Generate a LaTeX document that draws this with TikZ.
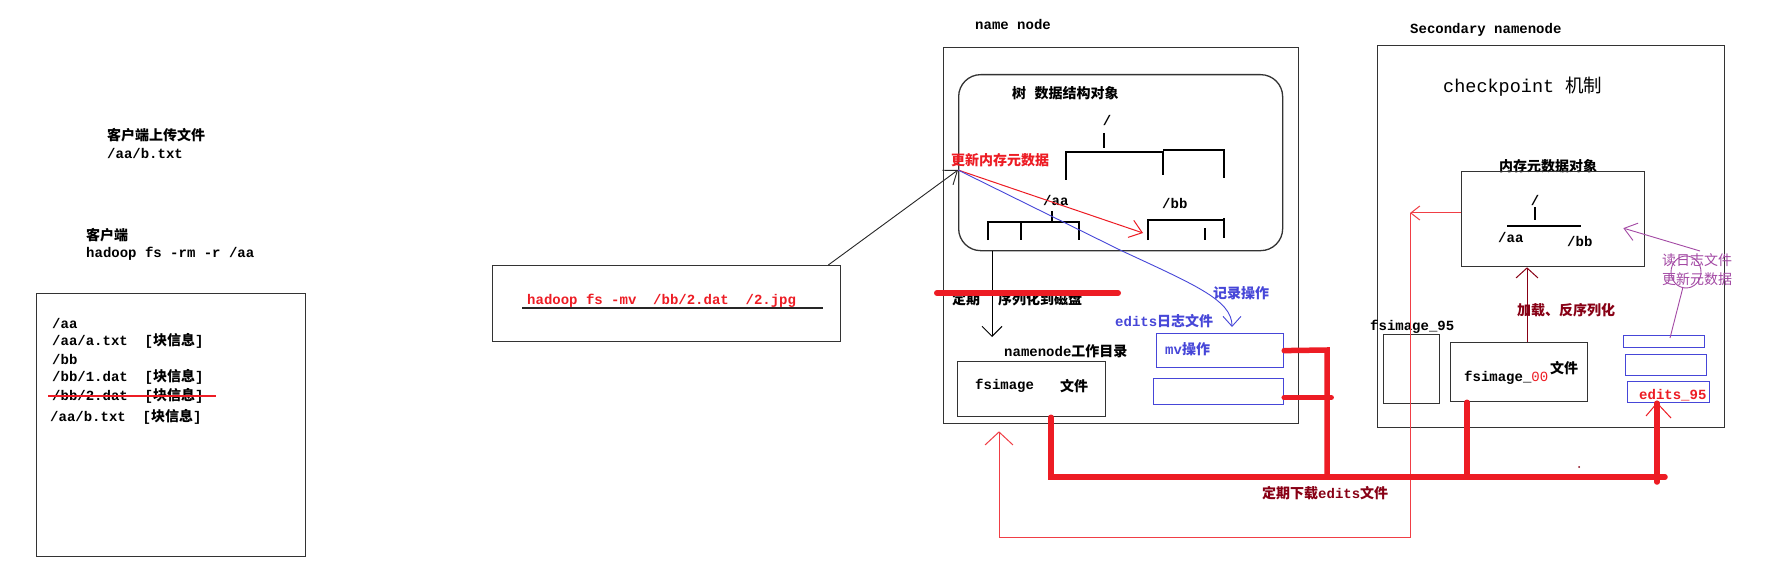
\documentclass[tikz,border=0pt]{standalone}
\usepackage{fontspec}
\setmainfont{Liberation Mono}
\newfontfamily\cjk{Noto Sans CJK SC}
\usetikzlibrary{arrows.meta,calc}
\definecolor{pred}{HTML}{ED1C24}
\definecolor{pblue}{HTML}{4646D8}
\definecolor{ppurple}{HTML}{A349A4}
\definecolor{pmaroon}{HTML}{880015}
\definecolor{pline}{HTML}{333333}
\newcommand{\zh}[1]{{\cjk\bfseries #1}}
\newcommand{\zhr}[1]{{\cjk #1}}
\tikzset{
  txt/.style={anchor=west, inner sep=0pt, font=\fontsize{14}{16}\selectfont\bfseries},
  box/.style={draw=pline, line width=1.3pt, anchor=north west, inner sep=0pt},
  bbox/.style={draw=pblue, line width=1.2pt, anchor=north west, inner sep=0pt},
  barb/.style={-{Straight Barb[length=11pt,width=22pt]}},
  fat/.style={draw=pred, line width=5.5pt, line cap=round},
  thinred/.style={draw=pred!85, line width=1pt},
  treeln/.style={draw=black, line width=1.3pt},
}
\begin{document}
\begin{tikzpicture}[x=1pt,y=-1pt]
\useasboundingbox (0,0) rectangle (1769,572);
\fill[white] (0,0) rectangle (1769,572);

% ---------- left texts ----------
\node[txt] (t1) at (107,135) {\zh{客户端上传文件}};
\node[txt] (t2) at (107,153) {/aa/b.txt};
\node[txt] (t3) at (86,235) {\zh{客户端}};
\node[txt] (t4) at (86,254) {hadoop fs -rm -r /aa};

\node[box, minimum width=269pt, minimum height=263pt] (clientbox) at (36,293) {};
\node[txt] (l1) at (52,323) {/aa};
\node[txt] (l2) at (52,341) {/aa/a.txt~~[\zh{块信息}]};
\node[txt] (l3) at (52,359) {/bb};
\node[txt] (l4) at (52,377) {/bb/1.dat~~[\zh{块信息}]};
\node[txt] (l5) at (52,396) {/bb/2.dat~~[\zh{块信息}]};
\node[txt] (l6) at (50,417) {/aa/b.txt~~[\zh{块信息}]};
\draw[pred, line width=1.1pt] ($(l5.west)+(-4,0)$) -- ($(l5.east)+(12,0)$);

% ---------- command box ----------
\node[box, minimum width=348pt, minimum height=76pt] (hbox) at (492,265) {};
\node[txt, text=pred] (cmd) at (527,301) {hadoop fs -mv~~/bb/2.dat~~/2.jpg};
\draw[black!85, line width=1.2pt] ($(hbox.north west)+(30,43)$) -- ($(hbox.north west)+(331,43)$);

% ---------- name node ----------
\node[txt] (nnl) at (975,24) {name node};
\node[box, minimum width=355pt, minimum height=376pt] (nn) at (943,47) {};
\node[box, rounded corners=22pt, minimum width=324pt, minimum height=176pt] (mem) at (958,74) {};
\node[txt] (meml) at (1012,93) {\zh{树}~\zh{数据结构对象}};
\node[txt, anchor=center] (rootA) at (1107,120) {/};
\draw[treeln] (1104,133) -- (1104,148);
\draw[treeln] (1066,180) |- (1163,152) -- (1163,175);
\draw[treeln] (1163,150) -- (1224,150) -- (1224,178);
\node[txt] (aaA) at (1043,200) {/aa};
\node[txt] (bbA) at (1162,203) {/bb};
\draw[treeln] (1052,211) -- (1052,222);
\draw[treeln] (988,240) |- (1079,222) -- (1079,240);
\draw[treeln] (1021,222) -- (1021,240);
\draw[treeln] (1148,240) |- (1224,220);
\draw[treeln] (1224,218) -- (1224,238);
\draw[treeln] (1205,228) -- (1205,240);

\node[txt, text=pred] (upd) at (951,160) {\zh{更新内存元数据}};
\coordinate (updpt) at (958,170);
\coordinate (bbin) at (1143,233);

\node[txt] (dq1) at (952,299) {\zh{定期}};
\node[txt] (dq2) at (998,299) {\zh{序列化到磁盘}};
\node[txt] (wd) at (1004,351) {namenode\zh{工作目录}};
\node[box, minimum width=148pt, minimum height=55pt] (fsimg) at (957,361) {};
\node[txt] (fst) at (975,386) {fsimage};
\node[txt] (fwj) at (1060,386) {\zh{文件}};

\node[txt, text=pblue] (rec) at (1213,293) {\zh{记录操作}};
\node[txt, text=pblue] (edl) at (1115,321) {edits\zh{日志文件}};
\node[bbox, minimum width=127pt, minimum height=34pt] (mvbox) at (1156,333) {};
\node[txt, text=pblue] (mvt) at (1165,349) {mv\zh{操作}};
\node[bbox, minimum width=130pt, minimum height=26pt] (edbox2) at (1153,378) {};

% connectors in name node
\draw[black!85, line width=0.9pt, -{Straight Barb[length=12pt,width=18pt]}] ($(hbox.north east)+(-13,0)$) -- (updpt);
\draw[pred, line width=1pt, -{Straight Barb[length=12pt,width=18pt]}] (updpt) -- (bbin);
\draw[pblue, line width=0.9pt, -{Straight Barb[length=10pt,width=18pt]}] (updpt) -- (1120,250) .. controls (1195,285) and (1232,300) .. ($(mvbox.north west)+(76,-6)$);
\draw[black, line width=1pt, -{Straight Barb[length=10pt,width=20pt]}] ($(mem.south west)+(34,0)$) -- ($(fsimg.north west)+(35,-24)$);
\draw[fat, line width=6pt] (937,293) -- (1118,293);

% ---------- secondary namenode ----------
\node[txt] (snl) at (1410,30) {Secondary namenode};
\node[box, minimum width=347pt, minimum height=382pt] (sn) at (1377,45) {};
\node[txt, font=\fontsize{18.5}{20}\selectfont] (ck) at (1443,87) {checkpoint \zhr{机制}};
\node[txt] (mo) at (1499,166) {\zh{内存元数据对象}};
\node[box, minimum width=183pt, minimum height=95pt] (stree) at (1461,171) {};
\node[txt, anchor=center] (rootB) at (1535,200) {/};
\draw[treeln] (1535,207) -- (1535,220);
\draw[treeln] (1507,226) -- (1581,226);
\node[txt] (aaB) at (1498,237) {/aa};
\node[txt] (bbB) at (1567,241) {/bb};

\node[txt, text=pmaroon] (load) at (1517,310) {\zh{加载、反序列化}};
\node[txt] (f95) at (1370,327) {fsimage\_95};
\node[box, minimum width=56pt, minimum height=69pt] (fs95) at (1383,334) {};
\node[box, minimum width=137pt, minimum height=59pt] (fs00) at (1450,342) {};
\node[txt] (f00) at (1464,378) {fsimage\_\textcolor{pred}{\mdseries 00}};
\node[txt] (fwj2) at (1550,368) {\zh{文件}};

\node[bbox, minimum width=81pt, minimum height=12pt] (e1) at (1623,335) {};
\node[bbox, minimum width=81pt, minimum height=21pt] (e2) at (1625,354) {};
\node[bbox, minimum width=82pt, minimum height=21pt] (e3) at (1627,381) {};
\node[txt, text=pred] (e95) at (1639,395) {edits\_95};

\node[txt, text=ppurple, font=\fontsize{14}{16}\selectfont] (rd1) at (1662,260) {\zhr{读日志文件}};
\node[txt, text=ppurple, font=\fontsize{14}{16}\selectfont] (rd2) at (1662,279) {\zhr{更新元数据}};

% connectors in secondary
\draw[pmaroon, line width=1pt, -{Straight Barb[length=10pt,width=22pt]}] ($(fs00.north west)+(77,0)$) -- ($(stree.south west)+(66,0)$);
\draw[ppurple, line width=0.9pt] ($(e1.north west)+(47,3)$) -- (1683,287);
\draw[ppurple, line width=0.9pt] (1686,272) ellipse (15 and 16);
\draw[ppurple, line width=0.9pt, -{Straight Barb[length=12pt,width=18pt]}] (1700,251) -- ($(stree.east)+(-22,9)$);

% thin red return path
\draw[thinred, -{Straight Barb[length=9pt,width=14pt]}] ($(stree.north west)+(0,42)$) -- (1410,213);
\draw[thinred, -{Straight Barb[length=13pt,width=28pt]}] (1410,213) -- (1410,537) -- (999,537) -- ($(nn.south west)+(56,7)$);

% thick red download lines
\coordinate (busR) at (1665,477);
\draw[fat] ($(fsimg.south west)+(94,0)$) |- (busR);
\draw[fat] (mvbox.east) -- (1327,350) -- (1327,477);
\draw[fat] ($(edbox2.east)+(0,6)$) -- ++(47,0);
\draw[fat] (1467,477) -- ($(fs00.south west)+(17,0)$);
\draw[fat] (1657,482) -- ($(e3.south west)+(30,0)$);
\draw[pred, line width=1pt] (1646,416) -- (1657,403) -- (1671,418);
\node[txt, text=pmaroon] (dl) at (1262,493) {\zh{定期下载}edits\zh{文件}};
\fill[pmaroon] (1579,467) circle (1);
\end{tikzpicture}
\end{document}
